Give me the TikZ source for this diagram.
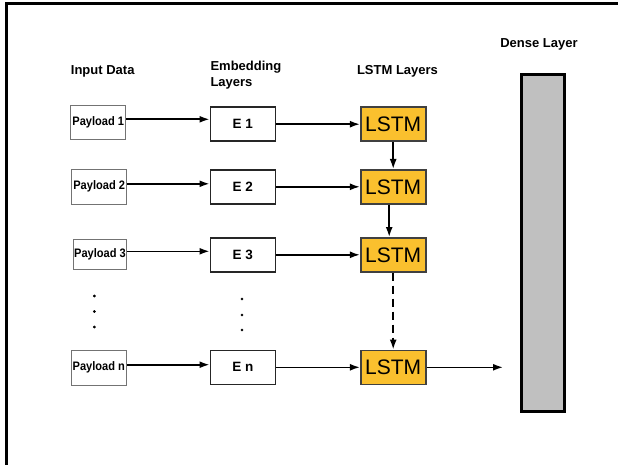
\documentclass[tikz,border=0pt]{standalone}
\usepackage{fontspec}
\setmainfont{Liberation Sans}
\newfontfamily\narrowfont[FakeStretch=0.9]{Liberation Sans}
\usetikzlibrary{arrows.meta}

\definecolor{lstmcolor}{RGB}{250,192,46}
\definecolor{densecolor}{RGB}{192,192,192}

\begin{document}
\begin{tikzpicture}[x=1pt,y=-1pt,>={Latex[length=10pt,width=7pt]},
	title/.style={font=\bfseries\fontsize{13}{15.5}\selectfont},
	inbox/.style={draw=black!55,line width=1.1pt,minimum width=55pt,minimum height=34pt,inner sep=0pt,font=\narrowfont\bfseries\fontsize{12.3}{14}\selectfont},
	ebox/.style={draw=black!85,line width=1.6pt,minimum width=65pt,minimum height=34pt,inner sep=0pt,font=\bfseries\fontsize{13.5}{15}\selectfont},
	lstmbox/.style={draw=black!75,fill=lstmcolor,line width=1.6pt,minimum width=65pt,minimum height=34pt,inner sep=0pt,font=\fontsize{21}{24}\selectfont},
	link/.style={->,line width=1.6pt}] %%%%%payload -> embedding -> LSTM -> dense

	\useasboundingbox (0,0) rectangle (618,465);
	\draw [line width=3pt] (6.7,465)--(6.7,3.3)--(618,3.3);%外框

	\node [title,anchor=west] (tin) at (67.4,71.7) {Input Data};%标题
	\node [title,anchor=west,align=left] (temb) at (207,75) {Embedding\\Layers};
	\node [title] (tlstm) at (397.5,71.7) {LSTM Layers};
	\node [title] (tdense) at (539,44) {Dense Layer};

	\node [inbox] (p1) at (98.3,122.3) {Payload 1};%输入
	\node [inbox,minimum height=35pt] (p2) at (99.2,186.8) {Payload 2};
	\node [inbox,minimum width=53pt,minimum height=30pt] (p3) at (100,254.3) {Payload 3};
	\node [inbox,minimum height=35pt] (pn) at (98.8,367.7) {Payload n};

	\node [ebox] (e1) at (242.8,124.2) {E 1};%嵌入层
	\node [ebox] (e2) at (242.8,186.8) {E 2};
	\node [ebox] (e3) at (242.8,254.8) {E 3};
	\node [ebox] (en) at (242.8,367.3) {E n};

	\node [lstmbox] (l1) at (393.2,124.2) {LSTM};%LSTM层
	\node [lstmbox] (l2) at (393.2,186.8) {LSTM};
	\node [lstmbox] (l3) at (393.2,254.8) {LSTM};
	\node [lstmbox] (ln) at (393.2,367.3) {LSTM};

	\node [draw,fill=densecolor,line width=3pt,minimum width=42.7pt,minimum height=336.4pt] (dense) at (542.8,243) {};%全连接层
	\coordinate (out) at (503,367.3);

	\foreach \r in {1,2,3,n}
	{
	\draw [link] (p\r.east) ++(0,-3) coordinate (a\r)--(a\r -| e\r.west);%输入箭头
	\draw [link] (e\r)--(l\r);%嵌入到LSTM
	}
	\draw [link] (l1)--(l2);%LSTM之间
	\draw [link] ([xshift=-4pt]l2.south)--([xshift=-4pt]l3.north);
	\draw [link,dash pattern=on 8pt off 5pt] (l3)--(ln);
	\draw [link] (ln)--(out);%输出

	\foreach \y in {296,311.5,327}
	\draw [fill] (94.3,\y) circle [radius=1.2pt];%省略点
	\foreach \y in {299,315,330}
	\draw [fill] (242,\y) circle [radius=1.2pt];

\end{tikzpicture}
\end{document}
